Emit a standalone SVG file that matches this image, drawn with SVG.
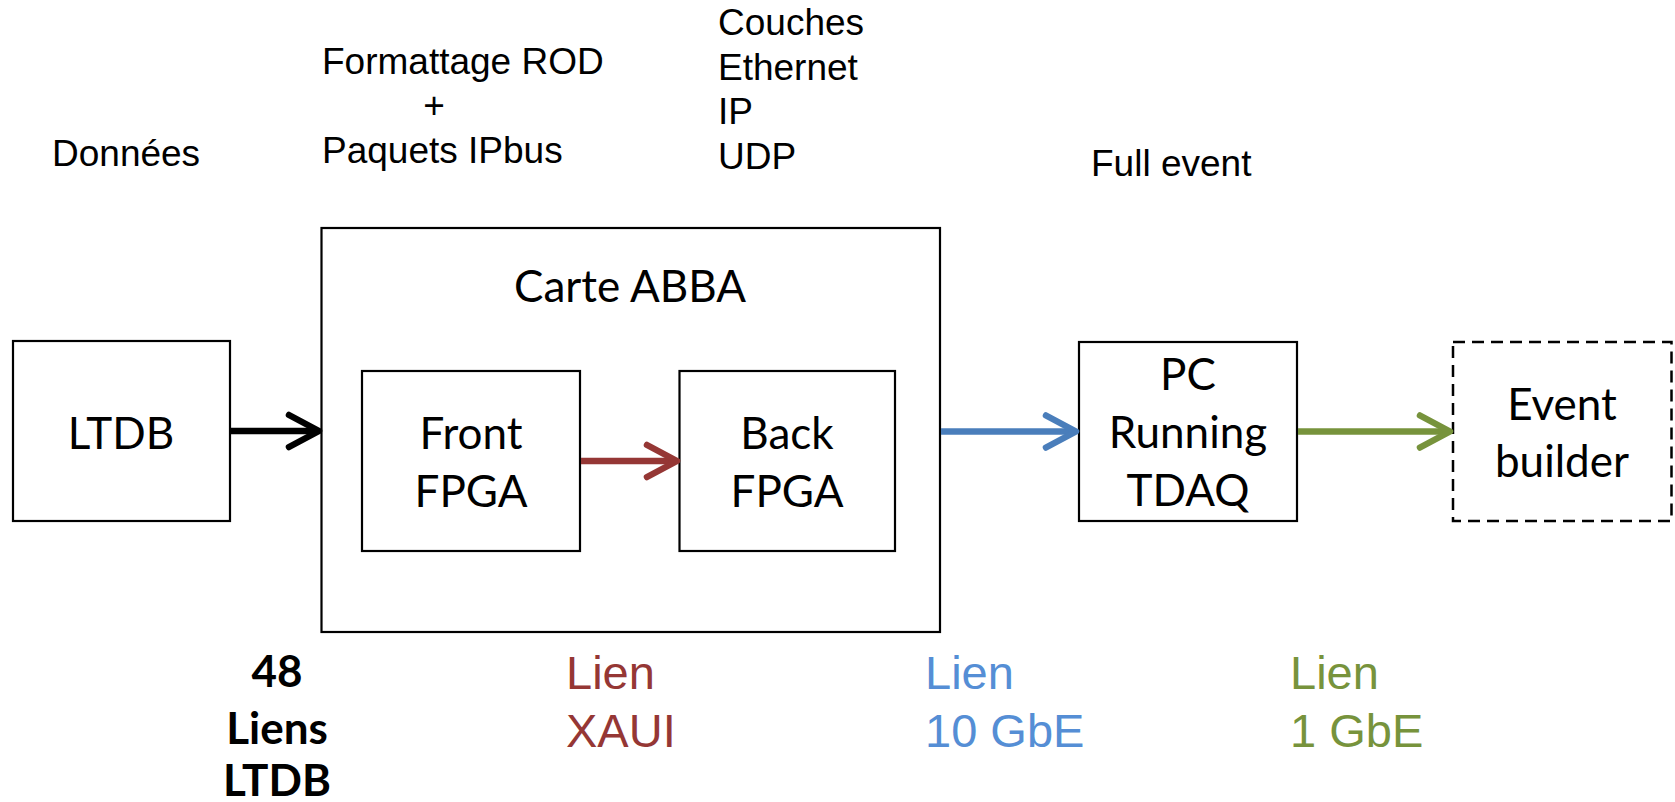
<svg xmlns="http://www.w3.org/2000/svg" width="1675" height="802" viewBox="0 0 1675 802">
<style>
.box{fill:#fff;stroke:#000;stroke-width:2.2}
.dash{fill:#fff;stroke:#000;stroke-width:2.5;stroke-dasharray:12 7}
.cal{font-family:Lato,"Open Sans",sans-serif;font-size:44px;fill:#000;text-anchor:middle}
.ar{font-family:"Liberation Sans",Arial,sans-serif;font-size:37px;fill:#000}
.lk{font-family:"Liberation Sans",Arial,sans-serif;font-size:47px}
.bold{font-family:Lato,"Open Sans",sans-serif;font-size:44px;font-weight:bold;fill:#000;text-anchor:middle}
.ln{fill:none;stroke-width:6.5}
.hd{fill:none;stroke-width:6.5;stroke-linecap:round;stroke-linejoin:round}
</style>
<rect width="1675" height="802" fill="#fff"/>
<g id="labels">
<text class="ar" x="52" y="166">Données</text>
<text class="ar" x="322" y="74">Formattage ROD</text>
<text class="ar" x="434" y="118" text-anchor="middle">+</text>
<text class="ar" x="322" y="163">Paquets IPbus</text>
<text class="ar" x="718" y="35">Couches</text>
<text class="ar" x="718" y="80">Ethernet</text>
<text class="ar" x="718" y="124">IP</text>
<text class="ar" x="718" y="169">UDP</text>
<text class="ar" x="1091" y="176">Full event</text>
<text class="bold" x="277" y="687">48</text>
<text class="bold" x="277" y="744">Liens</text>
<text class="bold" x="277" y="796">LTDB</text>
<text class="lk" x="566" y="689" fill="#953735">Lien</text>
<text class="lk" x="566" y="747" fill="#953735">XAUI</text>
<text class="lk" x="925" y="689" fill="#558ED5">Lien</text>
<text class="lk" x="925" y="747" fill="#558ED5">10 GbE</text>
<text class="lk" x="1290" y="689" fill="#77933C">Lien</text>
<text class="lk" x="1290" y="747" fill="#77933C">1 GbE</text>
</g>
<g id="abba">
<rect class="box" x="321.5" y="228" width="618.5" height="404"/>
<text class="cal" x="630" y="302">Carte ABBA</text>
</g>
<g id="ltdb">
<rect class="box" x="13" y="341" width="217" height="180"/>
<text class="cal" x="121" y="449">LTDB</text>
</g>
<g id="front">
<rect class="box" x="362" y="371" width="218" height="180"/>
<text class="cal" x="471" y="449">Front</text>
<text class="cal" x="471" y="507">FPGA</text>
</g>
<g id="back">
<rect class="box" x="679.5" y="371" width="215.5" height="180"/>
<text class="cal" x="787" y="449">Back</text>
<text class="cal" x="787" y="507">FPGA</text>
</g>
<g id="pc">
<rect class="box" x="1079" y="342" width="218" height="179"/>
<text class="cal" x="1188" y="390">PC</text>
<text class="cal" x="1188" y="448">Running</text>
<text class="cal" x="1188" y="506">TDAQ</text>
</g>
<g id="eventbuilder">
<rect class="dash" x="1453" y="342" width="218.5" height="179"/>
<text class="cal" x="1562" y="420">Event</text>
<text class="cal" x="1562" y="477">builder</text>
</g>
<g id="connectors">
<line class="ln" x1="230" y1="431" x2="318" y2="431" stroke="#000"/>
<polyline class="hd" points="289,415 319,431 289,447" stroke="#000"/>
<line class="ln" x1="581" y1="461" x2="676" y2="461" stroke="#953735"/>
<polyline class="hd" points="647,445 677,461 647,477" stroke="#953735"/>
<line class="ln" x1="941" y1="431.5" x2="1076" y2="431.5" stroke="#4A7EBB"/>
<polyline class="hd" points="1046,415.5 1076,431.5 1046,447.5" stroke="#4A7EBB"/>
<line class="ln" x1="1298" y1="431.5" x2="1450" y2="431.5" stroke="#77933C"/>
<polyline class="hd" points="1420,415.5 1450,431.5 1420,447.5" stroke="#77933C"/>
</g>
</svg>
